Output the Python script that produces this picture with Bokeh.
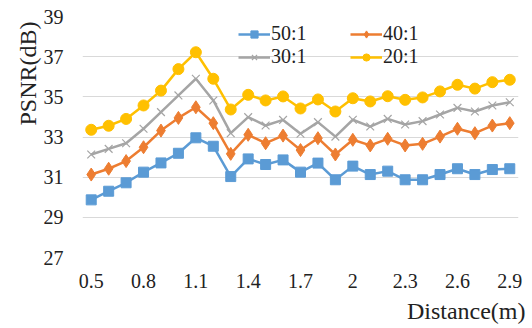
from bokeh.plotting import figure
from bokeh.models import Range1d, FixedTicker, CustomJSTickFormatter, Legend, LegendItem, Title
from bokeh.embed import file_html
from bokeh.resources import INLINE

distance = [0.5, 0.6, 0.7, 0.8, 0.9, 1.0, 1.1, 1.2, 1.3, 1.4, 1.5, 1.6, 1.7,
            1.8, 1.9, 2.0, 2.1, 2.2, 2.3, 2.4, 2.5, 2.6, 2.7, 2.8, 2.9]
psnr_50 = [29.87, 30.30, 30.72, 31.25, 31.71, 32.19, 32.96, 32.54, 31.03, 31.91, 31.63, 31.86, 31.25,
           31.70, 30.87, 31.55, 31.13, 31.30, 30.87, 30.87, 31.13, 31.42, 31.13, 31.38, 31.42]
psnr_40 = [31.13, 31.42, 31.80, 32.49, 33.32, 33.95, 34.48, 33.69, 32.16, 33.11, 32.69, 33.07, 32.35,
           32.94, 32.13, 32.86, 32.58, 32.91, 32.58, 32.66, 33.02, 33.41, 33.19, 33.57, 33.69]
psnr_30 = [32.13, 32.41, 32.69, 33.41, 34.24, 35.07, 35.90, 34.82, 33.19, 33.99, 33.57, 33.85, 33.16,
           33.74, 33.02, 33.86, 33.52, 33.90, 33.62, 33.79, 34.12, 34.45, 34.27, 34.57, 34.73]
psnr_20 = [33.36, 33.56, 33.90, 34.57, 35.31, 36.38, 37.22, 35.90, 34.37, 35.10, 34.82, 35.02, 34.42,
           34.87, 34.27, 34.93, 34.77, 35.03, 34.85, 34.97, 35.27, 35.60, 35.41, 35.73, 35.85]
x_ticks = [0.5, 0.8, 1.1, 1.4, 1.7, 2.0, 2.3, 2.6, 2.9]
y_ticks = [27, 29, 31, 33, 35, 37, 39]

FONT = "'Liberation Serif', 'Times New Roman', 'DejaVu Serif', serif"
TXT = "#222222"

p = figure(width=532, height=328, output_backend="svg", toolbar_location=None,
           x_range=Range1d(0.45, 2.95), y_range=Range1d(27, 39),
           min_border_left=82, min_border_right=14, min_border_top=16, min_border_bottom=71)
p.outline_line_color = None
p.background_fill_color = "white"

p.xgrid.grid_line_color = None
p.ygrid.grid_line_color = "#d9d9d9"
p.ygrid.grid_line_width = 1

p.xaxis.ticker = FixedTicker(ticks=x_ticks)
p.xaxis.formatter = CustomJSTickFormatter(code="return (Math.round(tick*10)/10).toString();")
p.yaxis.ticker = FixedTicker(ticks=y_ticks)
for ax in (p.xaxis[0], p.yaxis[0]):
    ax.axis_line_color = None
    ax.major_tick_line_color = None
    ax.minor_tick_line_color = None
    ax.major_tick_out = 0
    ax.major_tick_in = 0
    ax.major_label_text_font = FONT
    ax.major_label_text_font_size = "20px"
    ax.major_label_text_color = TXT
p.xaxis.major_label_standoff = 16
p.yaxis.major_label_standoff = 19

series = [
    ("50:1", psnr_50, "#5B9BD5", "square", 10),
    ("40:1", psnr_40, "#ED7D31", "diamond", 13),
    ("30:1", psnr_30, "#A5A5A5", "x", 11),
    ("20:1", psnr_20, "#FFC000", "circle", 11),
]
items = []
for label, ys, color, marker, size in series:
    r1 = p.line(distance, ys, line_color=color, line_width=2.5)
    r2 = p.scatter(distance, ys, marker=marker, size=size, fill_color=color,
                   line_color=color, line_width=1.2 if marker == "x" else 1)
    items.append(LegendItem(label=label, renderers=[r1, r2]))

legend = Legend(items=items, orientation="horizontal", ncols=2,
                location=(156, 189), background_fill_alpha=0, border_line_color=None,
                label_text_font=FONT, label_text_font_size="20px", label_text_color=TXT,
                glyph_width=32, glyph_height=18, label_standoff=1, spacing=0,
                padding=0, margin=0, label_height=18, label_width=79)
p.add_layout(legend, "center")

ytitle = Title(text="PSNR(dB)", align="right", text_font=FONT, text_font_size="24px",
               text_font_style="normal", text_color=TXT, offset=5, standoff=0)
p.add_layout(ytitle, "left")
xtitle = Title(text="Distance(m)", align="right", text_font=FONT, text_font_size="24px",
               text_font_style="normal", text_color=TXT, offset=-7, standoff=10)
p.add_layout(xtitle, "below")

open("out.html", "w").write(file_html(p, INLINE))
